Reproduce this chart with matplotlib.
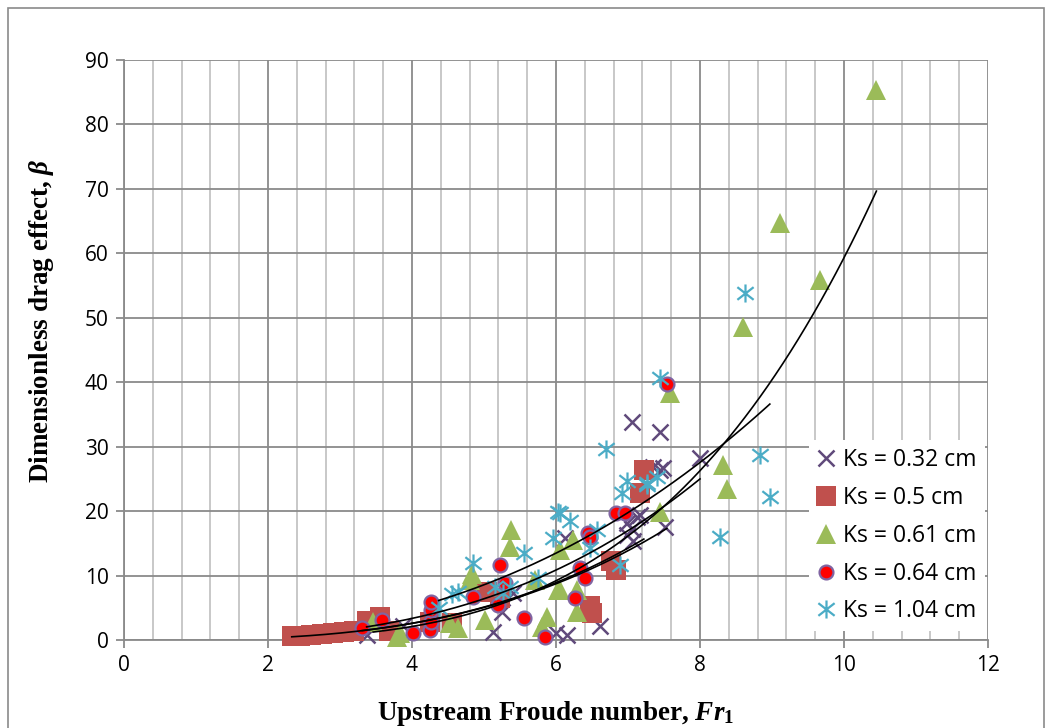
import numpy as np
import matplotlib
matplotlib.use("Agg")
import matplotlib.pyplot as plt
from matplotlib.path import Path
from matplotlib.patches import Rectangle

plt.rcParams["mathtext.fontset"] = "custom"
plt.rcParams["mathtext.it"] = "Liberation Serif:italic:bold"
plt.rcParams["mathtext.rm"] = "Liberation Serif:bold"
plt.rcParams["mathtext.bf"] = "Liberation Serif:bold"

# ---- data: upstream Froude number vs dimensionless drag effect ----
labels = ["Ks = 0.32 cm", "Ks = 0.5 cm", "Ks = 0.61 cm", "Ks = 0.64 cm", "Ks = 1.04 cm"]

fr_032 = [3.37, 3.88, 5.13, 5.25, 5.40, 6.00, 6.13, 6.15, 6.61, 6.98, 6.98, 7.05, 7.05,
          7.07, 7.12, 7.17, 7.35, 7.44, 7.44, 7.49, 7.51, 8.00]
b_032 = [0.8, 2.1, 1.3, 4.4, 7.3, 1.1, 15.8, 0.8, 2.1, 18.1, 16.3, 33.9, 17.3,
         15.3, 19.1, 19.4, 26.9, 32.3, 26.4, 26.7, 17.5, 28.2]

fr_050 = [2.33, 2.45, 2.60, 2.75, 2.90, 3.05, 3.20, 3.38, 3.55, 3.68, 4.25, 4.55,
          5.04, 5.22, 6.47, 6.50, 6.77, 6.84, 7.17, 7.22]
b_050 = [0.6, 0.6, 0.8, 0.9, 1.1, 1.3, 1.4, 3.0, 3.5, 1.4, 2.8, 2.6,
         7.4, 6.5, 5.2, 4.2, 12.2, 10.9, 22.8, 26.4]

fr_061 = [3.46, 3.79, 3.83, 4.53, 4.64, 4.80, 4.83, 5.01, 5.36, 5.38, 5.71, 5.80, 5.87,
          6.03, 6.05, 6.06, 6.24, 6.29, 6.29, 7.44, 7.58, 8.32, 8.37, 8.60, 9.11, 9.66, 10.45]
b_061 = [2.8, 0.5, 1.1, 2.6, 1.9, 9.3, 10.3, 3.1, 14.5, 17.0, 9.3, 2.0, 3.6,
         7.8, 7.8, 14.0, 15.5, 7.8, 4.4, 19.9, 38.3, 27.2, 23.5, 48.6, 64.7, 55.9, 85.4]

fr_064 = [3.31, 3.58, 4.02, 4.25, 4.26, 4.27, 4.27, 4.85, 5.19, 5.22, 5.29, 5.55, 5.85,
          6.26, 6.33, 6.40, 6.45, 6.47, 6.84, 6.96, 7.54]
b_064 = [1.8, 3.1, 1.1, 1.55, 2.8, 4.65, 5.9, 6.6, 5.4, 11.6, 8.8, 3.4, 0.5,
         6.5, 11.2, 9.6, 16.6, 16.0, 19.7, 19.7, 39.8]

fr_104 = [4.37, 4.55, 4.64, 4.85, 5.15, 5.27, 5.36, 5.55, 5.75, 5.96, 6.03, 6.06, 6.19,
          6.47, 6.57, 6.70, 6.89, 6.91, 6.98, 7.26, 7.26, 7.40, 7.44, 8.28, 8.63, 8.83, 8.97]
b_104 = [4.9, 7.2, 7.5, 11.9, 8.3, 7.3, 8.3, 13.5, 9.6, 15.8, 19.9, 19.7, 18.4,
         14.2, 17.1, 29.7, 11.6, 22.8, 24.6, 24.1, 24.3, 25.3, 40.6, 16.0, 53.8, 28.7, 22.2]

# power-law trend lines  beta = a * Fr^b  (one per roughness)
trend_a = [0.0601, 0.0377, 0.01328, 0.0404, 0.157]
trend_b = [2.90, 3.05, 3.65, 3.00, 2.485]

xticks = [0, 2, 4, 6, 8, 10, 12]
yticks = [0, 10, 20, 30, 40, 50, 60, 70, 80, 90]

# ---- figure ----
W, H = 1052, 728
fig = plt.figure(figsize=(W / 100, H / 100), dpi=100)
ax = fig.add_axes([124 / W, 1 - 640 / H, 864 / W, 580 / H])

grid_dark = "#8a8a8a"
grid_light = "#c4c4c4"

ax.set_xlim(0, 12)
ax.set_ylim(0, 90)
ax.set_xticks(xticks)
ax.set_yticks(yticks)
ax.set_xticks(np.arange(0, 12.01, 0.4), minor=True)
ax.grid(True, which="minor", axis="x", color=grid_light, lw=1.3, zorder=0)
ax.grid(True, which="major", axis="both", color=grid_dark, lw=1.3, zorder=0)
ax.set_axisbelow(True)
for s in ("top", "right"):
    ax.spines[s].set_visible(False)
for s in ("left", "bottom"):
    ax.spines[s].set_color(grid_dark)
    ax.spines[s].set_linewidth(1.3)
ax.tick_params(axis="both", which="major", direction="out", length=6, width=1.3,
               color=grid_dark, labelsize=15, pad=5)
ax.tick_params(axis="x", which="minor", length=0)
for lab in ax.get_xticklabels() + ax.get_yticklabels():
    lab.set_fontfamily("Open Sans")

# asterisk marker: vertical stroke plus two diagonals
ast = Path([(0, -1), (0, 1), (-0.9, -0.7), (0.9, 0.7), (-0.9, 0.7), (0.9, -0.7)],
           [Path.MOVETO, Path.LINETO, Path.MOVETO, Path.LINETO, Path.MOVETO, Path.LINETO])

kw = dict(ls="none", clip_on=False)
h1, = ax.plot(fr_032, b_032, marker="x", ms=12, mew=1.8, color="#604a7b", zorder=3, **kw)
h2, = ax.plot(fr_050, b_050, marker="s", ms=14.5, mew=0, color="#c0504d", zorder=3, **kw)
h3, = ax.plot(fr_061, b_061, marker="^", ms=15, mew=0, color="#9bbb59", zorder=3, **kw)
h4, = ax.plot(fr_064, b_064, marker="o", ms=10, mfc="#ff0000", mec="#8064a2", mew=1.6,
              zorder=3, **kw)
h5, = ax.plot(fr_104, b_104, marker=ast, ms=13, mew=1.6, color="#4bacc6", zorder=3, **kw)

series_x = [fr_032, fr_050, fr_061, fr_064, fr_104]
for xs, a, b in zip(series_x, trend_a, trend_b):
    xx = np.linspace(min(xs), max(xs), 200)
    ax.plot(xx, a * xx ** b, color="black", lw=1.2, zorder=4)

leg = ax.legend([h1, h2, h3, h4, h5], labels, loc="lower right",
                bbox_to_anchor=(0.996, 0.015), frameon=True, fancybox=False,
                edgecolor="none", facecolor="white", framealpha=1,
                prop={"family": "Open Sans", "size": 16.5}, numpoints=1,
                handlelength=0.85, handletextpad=0.3, labelspacing=0.6,
                borderpad=0.35, borderaxespad=0)
leg.set_zorder(6)

# axis titles
fig.text(556 / W, 1 - 714 / H, r"Upstream Froude number, $Fr_\mathit{1}$", ha="center",
         va="center", family="Liberation Serif", weight="bold", size=19.5)
fig.text(42 / W, 1 - 321 / H, r"Dimensionless drag effect, $\beta$", ha="center", va="center",
         rotation=90, family="Liberation Serif", weight="bold", size=19.5)

# chart-area border
fig.add_artist(Rectangle((8 / W, -0.05), 1036 / W, 1.05 - 8 / H, transform=fig.transFigure,
                         fill=False, edgecolor="#8a8a8a", lw=1.2))

fig.savefig("out.png", dpi=100)
